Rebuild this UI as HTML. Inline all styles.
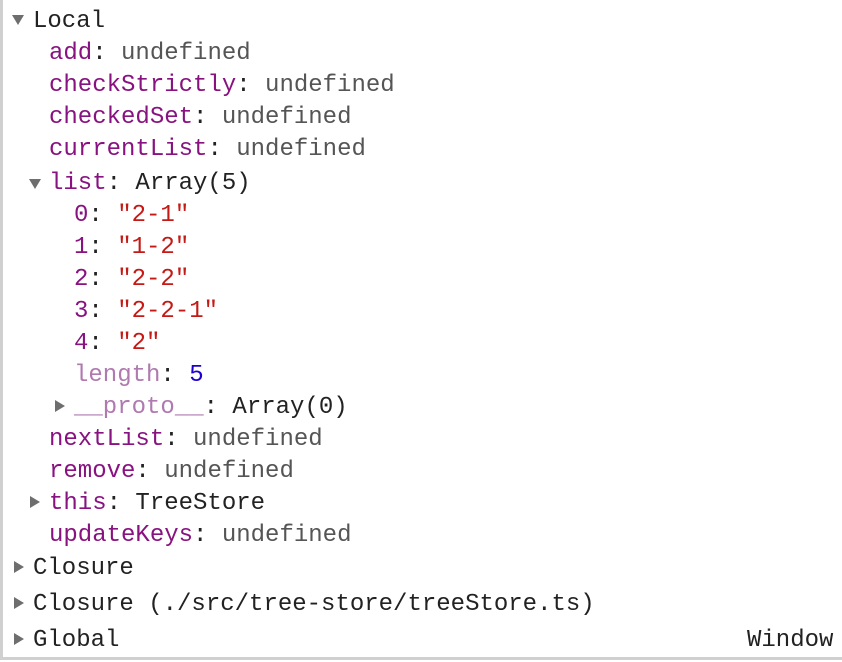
<!DOCTYPE html>
<html><head><style>
body{margin:0;width:842px;height:662px;background:#fff;position:relative;overflow:hidden;font-family:"Liberation Mono",monospace;font-size:24px;}
.bl{position:absolute;left:0;top:0;width:3px;height:660px;background:#d0d0d0}
.bb{position:absolute;left:0;top:657px;width:842px;height:3px;background:#d0d0d0}
.r{position:absolute;height:32px;line-height:32px;white-space:pre;color:#222;margin-top:2px}
.k{color:#881280}.u{color:#555}.s{color:#c41a16}.n{color:#1c00cf}.nk{color:#b07ab0}
.td{position:absolute;width:0;height:0;border-left:6px solid transparent;border-right:6px solid transparent;border-top:10px solid #6e6e6e}
.tr{position:absolute;width:0;height:0;border-top:6px solid transparent;border-bottom:6px solid transparent;border-left:10px solid #6e6e6e}
</style></head><body>
<div class="bl"></div><div class="bb"></div>
<div class="td" style="left:12px;top:15px"></div>
<div class="r" style="left:33px;top:4px">Local</div>
<div class="r" style="left:49px;top:36px"><span class="k">add</span>: <span class="u">undefined</span></div>
<div class="r" style="left:49px;top:68px"><span class="k">checkStrictly</span>: <span class="u">undefined</span></div>
<div class="r" style="left:49px;top:100px"><span class="k">checkedSet</span>: <span class="u">undefined</span></div>
<div class="r" style="left:49px;top:132px"><span class="k">currentList</span>: <span class="u">undefined</span></div>
<div class="td" style="left:29px;top:179px"></div>
<div class="r" style="left:49px;top:166px"><span class="k">list</span>: Array(5)</div>
<div class="r" style="left:74px;top:198px"><span class="k">0</span>: <span class="s">"2-1"</span></div>
<div class="r" style="left:74px;top:230px"><span class="k">1</span>: <span class="s">"1-2"</span></div>
<div class="r" style="left:74px;top:262px"><span class="k">2</span>: <span class="s">"2-2"</span></div>
<div class="r" style="left:74px;top:294px"><span class="k">3</span>: <span class="s">"2-2-1"</span></div>
<div class="r" style="left:74px;top:326px"><span class="k">4</span>: <span class="s">"2"</span></div>
<div class="r" style="left:74px;top:358px"><span class="nk">length</span>: <span class="n">5</span></div>
<div class="tr" style="left:55px;top:400px"></div>
<div class="r" style="left:74px;top:390px"><span class="nk">__proto__</span>: Array(0)</div>
<div class="r" style="left:49px;top:422px"><span class="k">nextList</span>: <span class="u">undefined</span></div>
<div class="r" style="left:49px;top:454px"><span class="k">remove</span>: <span class="u">undefined</span></div>
<div class="tr" style="left:30px;top:496px"></div>
<div class="r" style="left:49px;top:486px"><span class="k">this</span>: TreeStore</div>
<div class="r" style="left:49px;top:518px"><span class="k">updateKeys</span>: <span class="u">undefined</span></div>
<div class="tr" style="left:14px;top:561px"></div>
<div class="r" style="left:33px;top:551px">Closure</div>
<div class="tr" style="left:14px;top:597px"></div>
<div class="r" style="left:33px;top:587px">Closure (./src/tree-store/treeStore.ts)</div>
<div class="tr" style="left:14px;top:633px"></div>
<div class="r" style="left:33px;top:623px">Global</div>
<div class="r" style="left:747px;top:623px">Window</div>
</body></html>
